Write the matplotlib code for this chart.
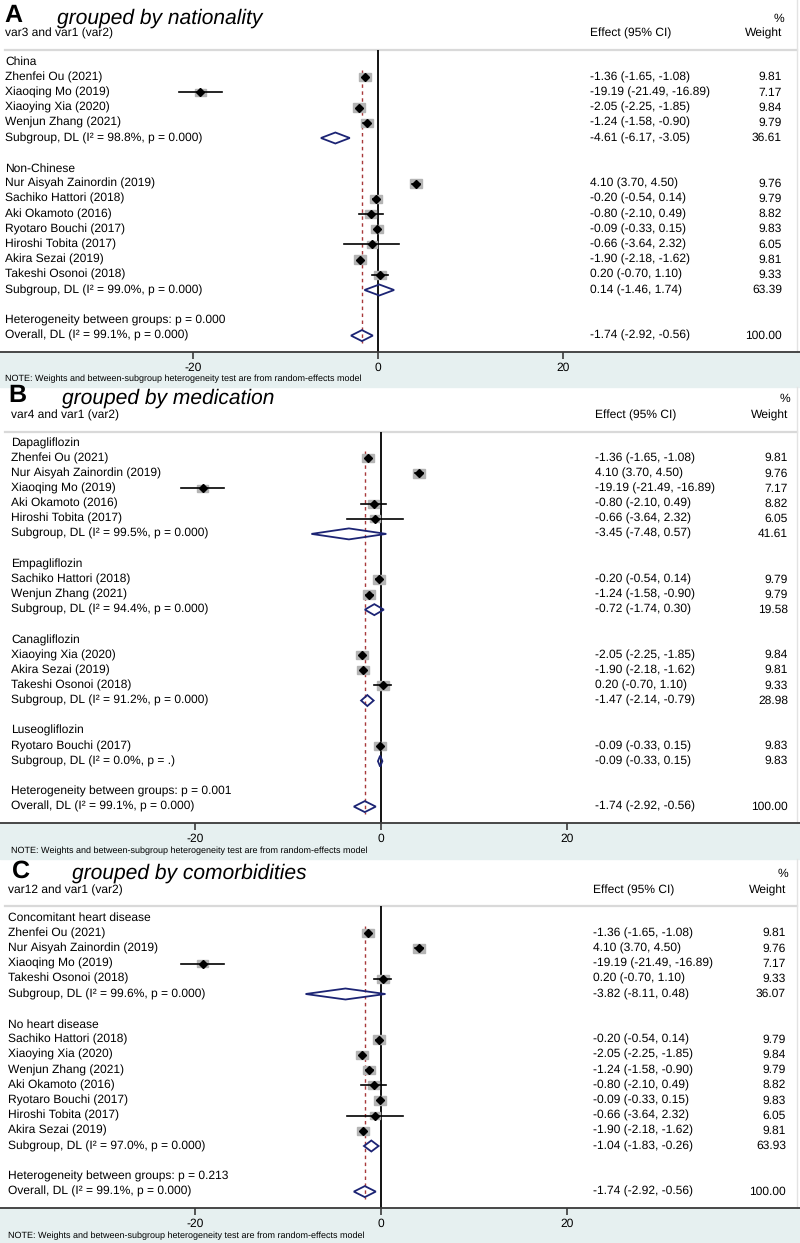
import matplotlib
matplotlib.use("Agg")
import matplotlib.pyplot as plt
from matplotlib.patches import Rectangle, Polygon
from matplotlib.transforms import blended_transform_factory

plt.rcParams['font.family'] = ['Liberation Sans', 'DejaVu Sans']
plt.rcParams['text.hinting'] = 'no_hinting'
plt.rcParams['text.hinting_factor'] = 1
plt.rcParams['axes.unicode_minus'] = False

W, H = 800, 1243

# Study level results (mean difference, 95% CI, random-effects weight)
study_names = ["Zhenfei Ou (2021)", "Xiaoqing Mo (2019)", "Xiaoying Xia (2020)",
               "Wenjun Zhang (2021)", "Nur Aisyah Zainordin (2019)", "Sachiko Hattori (2018)",
               "Aki Okamoto (2016)", "Ryotaro Bouchi (2017)", "Hiroshi Tobita (2017)",
               "Akira Sezai (2019)", "Takeshi Osonoi (2018)"]
study_effect = [-1.36, -19.19, -2.05, -1.24, 4.10, -0.20, -0.80, -0.09, -0.66, -1.90, 0.20]
study_lower = [-1.65, -21.49, -2.25, -1.58, 3.70, -0.54, -2.10, -0.33, -3.64, -2.18, -0.70]
study_upper = [-1.08, -16.89, -1.85, -0.90, 4.50, 0.14, 0.49, 0.15, 2.32, -1.62, 1.10]
study_weight = [9.81, 7.17, 9.84, 9.79, 9.76, 9.79, 8.82, 9.83, 6.05, 9.81, 9.33]

# Overall pooled estimate
overall_effect = -1.74
overall_lower = -2.92
overall_upper = -0.56
overall_i2 = "99.1"
overall_p = "0.000"

# Panel A: nationality
groups_a = ["China", "Non-Chinese"]
members_a = [["Zhenfei Ou (2021)", "Xiaoqing Mo (2019)", "Xiaoying Xia (2020)", "Wenjun Zhang (2021)"],
             ["Nur Aisyah Zainordin (2019)", "Sachiko Hattori (2018)", "Aki Okamoto (2016)",
              "Ryotaro Bouchi (2017)", "Hiroshi Tobita (2017)", "Akira Sezai (2019)",
              "Takeshi Osonoi (2018)"]]
sub_effect_a = [-4.61, 0.14]
sub_lower_a = [-6.17, -1.46]
sub_upper_a = [-3.05, 1.74]
sub_weight_a = [36.61, 63.39]
sub_i2_a = ["98.8", "99.0"]
sub_p_a = ["0.000", "0.000"]
het_p_a = "0.000"

# Panel B: medication
groups_b = ["Dapagliflozin", "Empagliflozin", "Canagliflozin", "Luseogliflozin"]
members_b = [["Zhenfei Ou (2021)", "Nur Aisyah Zainordin (2019)", "Xiaoqing Mo (2019)",
              "Aki Okamoto (2016)", "Hiroshi Tobita (2017)"],
             ["Sachiko Hattori (2018)", "Wenjun Zhang (2021)"],
             ["Xiaoying Xia (2020)", "Akira Sezai (2019)", "Takeshi Osonoi (2018)"],
             ["Ryotaro Bouchi (2017)"]]
sub_effect_b = [-3.45, -0.72, -1.47, -0.09]
sub_lower_b = [-7.48, -1.74, -2.14, -0.33]
sub_upper_b = [0.57, 0.30, -0.79, 0.15]
sub_weight_b = [41.61, 19.58, 28.98, 9.83]
sub_i2_b = ["99.5", "94.4", "91.2", "0.0"]
sub_p_b = ["0.000", "0.000", "0.000", "."]
het_p_b = "0.001"

# Panel C: comorbidities
groups_c = ["Concomitant heart disease", "No heart disease"]
members_c = [["Zhenfei Ou (2021)", "Nur Aisyah Zainordin (2019)", "Xiaoqing Mo (2019)",
              "Takeshi Osonoi (2018)"],
             ["Sachiko Hattori (2018)", "Xiaoying Xia (2020)", "Wenjun Zhang (2021)",
              "Aki Okamoto (2016)", "Ryotaro Bouchi (2017)", "Hiroshi Tobita (2017)",
              "Akira Sezai (2019)"]]
sub_effect_c = [-3.82, -1.04]
sub_lower_c = [-8.11, -1.83]
sub_upper_c = [0.48, -0.26]
sub_weight_c = [36.07, 63.93]
sub_i2_c = ["99.6", "97.0"]
sub_p_c = ["0.000", "0.000"]
het_p_c = "0.213"

x_ticks = [-20, 0, 20]
note_text = "NOTE: Weights and between-subgroup heterogeneity test are from random-effects model"

BG = "#e6f0f0"
NAVY = "#1c2474"
BOX = "#b4b4b4"
RED = "#a8383a"
FS = 8.65


def fx(px):
    return px / W


def fy(py):
    return 1 - py / H


def fmt_ci(e, l, h):
    return f"{e:.2f} ({l:.2f}, {h:.2f})"


def draw_panel(fig, letter, title, var_label, groups, members, sub_eff, sub_lo, sub_hi,
               sub_w, sub_i2, sub_p, het_p, lay):
    step = lay["step"]
    s = lay["scale"]

    # Build the row layout
    rows = []
    for g, name in enumerate(groups):
        rows.append(("group", name))
        for m in members[g]:
            rows.append(("study", study_names.index(m)))
        rows.append(("sub", g))
        rows.append(("blank", None))
    rows.append(("het", None))
    rows.append(("overall", None))
    n_overall = len(rows) - 1

    # Light background under the axis for the note
    fig.patches.append(Rectangle((0, fy(lay["bg_bottom"])), 1, (lay["bg_bottom"] - lay["axis_y"]) / H,
                                 transform=fig.transFigure, color=BG, zorder=-5))

    ax = fig.add_axes([0, fy(lay["axis_y"]), 1, (lay["axis_y"] - lay["header_y"]) / H])
    ax.set_zorder(2)
    ax.set_xlim(-lay["x0"] / s, (W - lay["x0"]) / s)
    ax.set_ylim((lay["axis_y"] - lay["first_y"]) / step, (lay["header_y"] - lay["first_y"]) / step)
    ax.patch.set_alpha(0)
    for sp in ["top", "left", "right"]:
        ax.spines[sp].set_visible(False)
    ax.spines["bottom"].set_color("#3a3a3a")
    ax.spines["bottom"].set_linewidth(1.3)
    ax.set_yticks([])
    ax.set_xticks(x_ticks)
    ax.tick_params(axis="x", direction="out", length=5, width=1.2, color="#3a3a3a",
                   labelsize=FS, pad=2)

    # Header line and right border
    fig.add_artist(plt.Line2D([fx(5), fx(797)], [fy(lay["header_y"])] * 2, transform=fig.transFigure,
                              color="#d9d9d9", lw=1.6))
    fig.add_artist(plt.Line2D([fx(797)] * 2, [fy(lay["top_y"]), fy(lay["axis_y"])],
                              transform=fig.transFigure, color="#e3e3e3", lw=1))

    # Titles
    fig.text(fx(lay["letter_x"]), fy(lay["title_y"] - 2), letter, fontsize=18, fontweight="bold",
             va="center", ha="left")
    fig.text(fx(lay["title_x"]), fy(lay["title_y"]), title, fontsize=15.3, style="italic",
             va="center", ha="left")
    fig.text(fx(lay["left_x"]), fy(lay["var_y"]), var_label, fontsize=FS, va="center")
    fig.text(fx(lay["wt_x"] - 3), fy(lay["title_y"] + 1), "%", fontsize=FS, va="center", ha="center")
    fig.text(fx(lay["eff_x"]), fy(lay["var_y"]), "Effect (95% CI)", fontsize=FS, va="center")
    fig.text(fx(lay["wt_x"]), fy(lay["var_y"]), "Weight", fontsize=FS, va="center", ha="right")

    tr = blended_transform_factory(fig.transFigure, ax.transData)

    # Zero line and dashed overall line
    ax.axvline(0, color="black", lw=1.3, zorder=1)
    ax.plot([overall_effect] * 2, [0.5, n_overall + 0.5], color=RED, lw=1,
            linestyle=(0, (2.5, 2.5)), zorder=1)

    def diamond(y, e, l, h):
        hh = 5.5 / step
        ax.add_patch(Polygon([(l, y), (e, y - hh), (h, y), (e, y + hh)], closed=True,
                             fill=False, edgecolor=NAVY, lw=1.3, zorder=4))

    for y, (kind, val) in enumerate(rows):
        if kind == "group":
            ax.text(fx(lay["left_x"]), y, val, transform=tr, fontsize=FS, va="center")
        elif kind == "study":
            e, l, h, w = study_effect[val], study_lower[val], study_upper[val], study_weight[val]
            ax.text(fx(lay["left_x"]), y, study_names[val], transform=tr, fontsize=FS, va="center")
            ax.text(fx(lay["eff_x"]), y, fmt_ci(e, l, h), transform=tr, fontsize=FS, va="center")
            ax.text(fx(lay["wt_x"]), y, f"{w:.2f}", transform=tr, fontsize=FS, va="center", ha="right")
            bw = 12 * (w / 9.84) ** 0.5 / s
            bh = 8.5 * (w / 9.84) ** 0.5 / step
            ax.add_patch(Rectangle((e - bw / 2, y - bh / 2), bw, bh, color=BOX, zorder=2))
            ax.plot([l, h], [y, y], color="black", lw=1.2, zorder=3)
            ax.plot(e, y, marker="D", ms=4, color="black", zorder=3)
        elif kind == "sub":
            lab = f"Subgroup, DL (I² = {sub_i2[val]}%, p = {sub_p[val]})"
            ax.text(fx(lay["left_x"]), y, lab, transform=tr, fontsize=FS, va="center")
            ax.text(fx(lay["eff_x"]), y, fmt_ci(sub_eff[val], sub_lo[val], sub_hi[val]), transform=tr,
                    fontsize=FS, va="center")
            ax.text(fx(lay["wt_x"]), y, f"{sub_w[val]:.2f}", transform=tr, fontsize=FS,
                    va="center", ha="right")
            diamond(y, sub_eff[val], sub_lo[val], sub_hi[val])
        elif kind == "het":
            ax.text(fx(lay["left_x"]), y, f"Heterogeneity between groups: p = {het_p}", transform=tr,
                    fontsize=FS, va="center")
        elif kind == "overall":
            lab = f"Overall, DL (I² = {overall_i2}%, p = {overall_p})"
            ax.text(fx(lay["left_x"]), y, lab, transform=tr, fontsize=FS, va="center")
            ax.text(fx(lay["eff_x"]), y, fmt_ci(overall_effect, overall_lower, overall_upper),
                    transform=tr, fontsize=FS, va="center")
            ax.text(fx(lay["wt_x"]), y, "100.00", transform=tr, fontsize=FS, va="center", ha="right")
            diamond(y, overall_effect, overall_lower, overall_upper)

    fig.text(fx(lay["left_x"]), fy(lay["note_y"]), note_text, fontsize=6.8, va="center")


if __name__ == "__main__":
    fig = plt.figure(figsize=(W / 100, H / 100), dpi=100)
    fig.patch.set_facecolor("white")

    # Pixel layout of each panel
    layout_a = dict(top_y=0, letter_x=4, title_x=57, title_y=18, var_y=33, header_y=50, first_y=62,
                    step=15.2, axis_y=352, note_y=379, bg_bottom=387, x0=378, scale=9.25,
                    left_x=5, eff_x=590, wt_x=782)
    layout_b = dict(top_y=387, letter_x=8, title_x=62, title_y=398, var_y=415, header_y=432,
                    first_y=443, step=15.15, axis_y=823, note_y=851, bg_bottom=859, x0=381,
                    scale=9.3, left_x=11, eff_x=595, wt_x=788)
    layout_c = dict(top_y=859, letter_x=12, title_x=72, title_y=873, var_y=890, header_y=906,
                    first_y=918, step=15.2, axis_y=1208, note_y=1236, bg_bottom=1243, x0=381,
                    scale=9.3, left_x=8, eff_x=593, wt_x=786)

    draw_panel(fig, "A", "grouped by nationality", "var3 and var1 (var2)", groups_a, members_a,
               sub_effect_a, sub_lower_a, sub_upper_a, sub_weight_a, sub_i2_a, sub_p_a, het_p_a, layout_a)
    draw_panel(fig, "B", "grouped by medication", "var4 and var1 (var2)", groups_b, members_b,
               sub_effect_b, sub_lower_b, sub_upper_b, sub_weight_b, sub_i2_b, sub_p_b, het_p_b, layout_b)
    draw_panel(fig, "C", "grouped by comorbidities", "var12 and var1 (var2)", groups_c, members_c,
               sub_effect_c, sub_lower_c, sub_upper_c, sub_weight_c, sub_i2_c, sub_p_c, het_p_c, layout_c)

    fig.savefig("out.png", dpi=100, facecolor=fig.get_facecolor())
